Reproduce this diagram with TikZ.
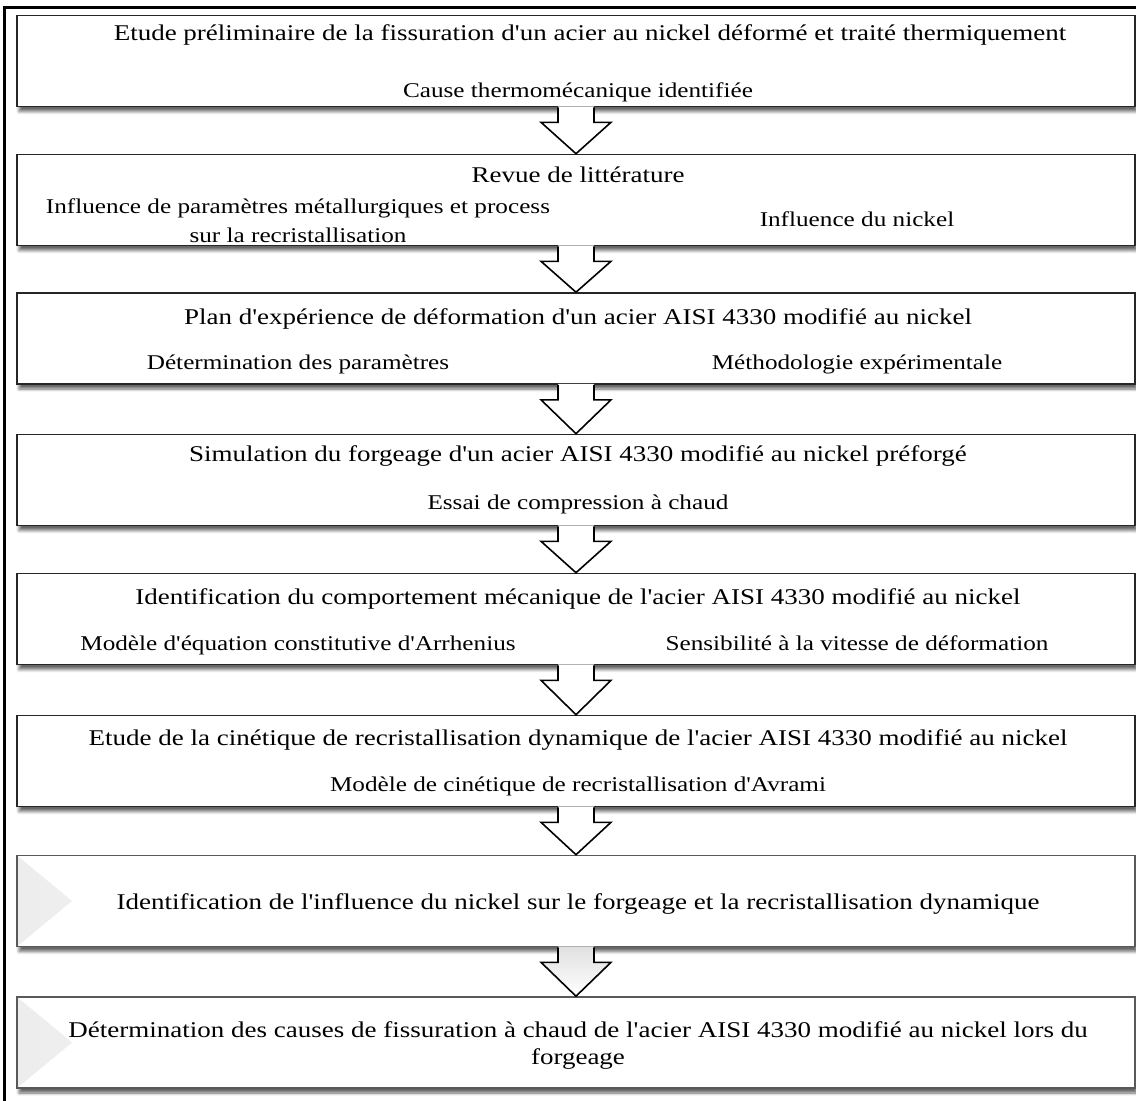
\documentclass[tikz,border=0pt]{standalone}
\usepackage{fontspec}
\setmainfont{Liberation Serif}[FakeStretch=1.2, Ligatures=TeXOff]
\usetikzlibrary{calc,shadows.blur}

\tikzset{
  stage/.style={draw=black!85, line width=1.6pt, fill=white, minimum width=1118pt, minimum height=91pt,
    blur shadow={shadow xshift=2pt, shadow yshift=-5pt, shadow blur radius=3pt, shadow blur steps=6, shadow opacity=60}},
  softstage/.style={stage, draw=black!65,
    path picture={\shade[left color=black!7, right color=white]
      (path picture bounding box.south west) -- (path picture bounding box.north west) -- ++(55,-45.5) -- cycle;}},
  heading/.style={font=\fontsize{22.5}{27}\selectfont, inner sep=0pt, anchor=base},
  note/.style={font=\fontsize{21}{28.5}\selectfont, inner sep=0pt, anchor=base, align=center}
}

% hollow block arrow from the bottom of one stage to the top of the next
\newcommand\flowarrow[3][fill=white]{%
  \path[#1] let \p1=(#2.south), \p2=(#3.north) in
    (\x1-18,\y1+1) -- (\x1-18,\y1-15) -- (\x1-35,\y1-15) -- (\x1,\y2) -- (\x1+35,\y1-15) -- (\x1+18,\y1-15) -- (\x1+18,\y1+1) -- cycle;
  \draw[line width=1.6pt, line join=miter] let \p1=(#2.south), \p2=(#3.north) in
    (\x1-18,\y1) -- (\x1-18,\y1-15) -- (\x1-35,\y1-15) -- (\x1,\y2) -- (\x1+35,\y1-15) -- (\x1+18,\y1-15) -- (\x1+18,\y1);}

\begin{document}
\begin{tikzpicture}[x=1pt,y=1pt]
\useasboundingbox (0,0) rectangle (1136,-1101);
\draw[line width=2.5pt] (4.5,-1120) |- (1150,-7.5);

% stages
\node[stage] (s1) at (576,-61) {};
\node[stage] (s2) at (576,-200) {};
\node[stage] (s3) at (576,-338.5) {};
\node[stage] (s4) at (576,-480) {};
\node[stage] (s5) at (576,-619) {};
\node[stage] (s6) at (576,-761) {};
\node[softstage] (s7) at (576,-901) {};
\node[softstage] (s8) at (576,-1042.5) {};

% texts
\node[heading] (s1t) at (590,-40) {Etude préliminaire de la fissuration d'un acier au nickel déformé et traité thermiquement};
\node[note] (s1a) at (578,-97) {Cause thermomécanique identifiée};

\node[heading] (s2t) at (578,-182) {Revue de littérature};
\node[note] (s2a) at (298,-242) {Influence de paramètres métallurgiques et process\\sur la recristallisation};
\node[note] (s2b) at (857,-226) {Influence du nickel};

\node[heading] (s3t) at (578,-324) {Plan d'expérience de déformation d'un acier AISI 4330 modifié au nickel};
\node[note] (s3a) at (298,-369) {Détermination des paramètres};
\node[note] (s3b) at (857,-369) {Méthodologie expérimentale};

\node[heading] (s4t) at (578,-461) {Simulation du forgeage d'un acier AISI 4330 modifié au nickel préforgé};
\node[note] (s4a) at (578,-509) {Essai de compression à chaud};

\node[heading] (s5t) at (578,-604) {Identification du comportement mécanique de l'acier AISI 4330 modifié au nickel};
\node[note] (s5a) at (298,-650) {Modèle d'équation constitutive d'Arrhenius};
\node[note] (s5b) at (857,-650) {Sensibilité à la vitesse de déformation};

\node[heading] (s6t) at (578,-745) {Etude de la cinétique de recristallisation dynamique de l'acier AISI 4330 modifié au nickel};
\node[note] (s6a) at (578,-791) {Modèle de cinétique de recristallisation d'Avrami};

\node[heading] (s7t) at (578,-909) {Identification de l'influence du nickel sur le forgeage et la recristallisation dynamique};

\node[heading, align=center, font=\fontsize{22.5}{27}\selectfont] (s8t) at (578,-1064) {Détermination des causes de fissuration à chaud de l'acier AISI 4330 modifié au nickel lors du\\forgeage};

% arrows
\flowarrow{s1}{s2}
\flowarrow{s2}{s3}
\flowarrow{s3}{s4}
\flowarrow{s4}{s5}
\flowarrow{s5}{s6}
\flowarrow{s6}{s7}
\flowarrow[top color=black!12, bottom color=white]{s7}{s8}
\end{tikzpicture}
\end{document}
